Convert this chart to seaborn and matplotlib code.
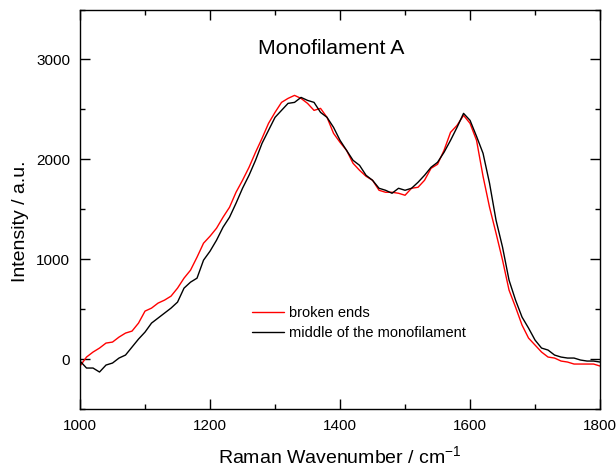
import numpy as np
import pandas as pd
import matplotlib
matplotlib.use("Agg")
import matplotlib.pyplot as plt
import seaborn as sns
from matplotlib.ticker import MultipleLocator

wavenumber = list(range(1000, 1801, 10))

broken_ends = [
    -70, 20, 70, 110, 160, 170, 220, 260, 280, 360,
    480, 510, 560, 590, 630, 710, 810, 890, 1020, 1160,
    1230, 1310, 1420, 1520, 1670, 1790, 1920, 2070, 2210, 2360,
    2470, 2570, 2610, 2640, 2610, 2560, 2490, 2510, 2420, 2260,
    2170, 2090, 1960, 1890, 1830, 1790, 1690, 1670, 1670, 1660,
    1640, 1710, 1720, 1790, 1910, 1950, 2090, 2270, 2340, 2440,
    2360, 2190, 1830, 1520, 1260, 990, 690, 520, 340, 210,
    140, 70, 20, 10, -20, -30, -50, -50, -50, -50,
    -70,
]

middle = [
    -20, -90, -90, -130, -60, -40, 10, 40, 120, 200,
    270, 360, 410, 460, 510, 570, 710, 770, 810, 990,
    1080, 1190, 1320, 1420, 1560, 1710, 1840, 1990, 2160, 2290,
    2420, 2490, 2560, 2570, 2620, 2590, 2570, 2470, 2420, 2320,
    2190, 2090, 1990, 1940, 1840, 1790, 1710, 1690, 1660, 1710,
    1690, 1710, 1770, 1840, 1920, 1970, 2070, 2190, 2320, 2460,
    2390, 2230, 2060, 1760, 1390, 1120, 790, 590, 420, 310,
    190, 110, 90, 40, 20, 10, 10, -10, -20, -20,
    -30,
]

series_names = ["broken ends", "middle of the monofilament"]
series_colors = ["#ff0000", "#000000"]

df = pd.concat([
    pd.DataFrame({"x": wavenumber, "y": broken_ends, "s": series_names[0]}),
    pd.DataFrame({"x": wavenumber, "y": middle, "s": series_names[1]}),
], ignore_index=True)

sns.set_style("ticks")
plt.rcParams["font.family"] = ["Liberation Sans", "DejaVu Sans"]
plt.rcParams["text.color"] = "black"
plt.rcParams["axes.labelcolor"] = "black"
plt.rcParams["xtick.color"] = "black"
plt.rcParams["ytick.color"] = "black"

fig = plt.figure(figsize=(6.16, 4.68), dpi=100)
ax = fig.add_axes([0.1299, 0.1261, 0.8442, 0.8536])

sns.lineplot(data=df, x="x", y="y", hue="s", hue_order=series_names,
             palette=series_colors, linewidth=1.0, ax=ax, estimator=None,
             sort=False)

ax.set_xlim(1000, 1800)
ax.set_ylim(-500, 3500)
ax.xaxis.set_major_locator(MultipleLocator(200))
ax.xaxis.set_minor_locator(MultipleLocator(100))
ax.yaxis.set_major_locator(MultipleLocator(1000))
ax.yaxis.set_minor_locator(MultipleLocator(500))
ax.tick_params(which="both", direction="in", top=True, right=True,
               labelsize=11, width=1.0, color="black", pad=7)
ax.tick_params(which="major", length=7)
ax.tick_params(which="minor", length=3.5)
for sp in ax.spines.values():
    sp.set_linewidth(1.0)
    sp.set_color("black")
    sp.set_visible(True)

ax.set_xlabel("Raman Wavenumber / cm$^{\\mathregular{-1}}$", fontsize=14, labelpad=9)
ax.set_ylabel("Intensity / a.u.", fontsize=14)
ax.yaxis.set_label_coords(-0.098, 0.47)

ax.text(1386, 3110, "Monofilament A", fontsize=15.3, ha="center", va="center")

leg = ax.legend(loc="upper left", bbox_to_anchor=(0.306, 0.29), frameon=False,
                fontsize=10.5, handlelength=2.2, handletextpad=0.35,
                labelspacing=0.4)
leg.set_title(None)

fig.savefig("out.png", dpi=100)
